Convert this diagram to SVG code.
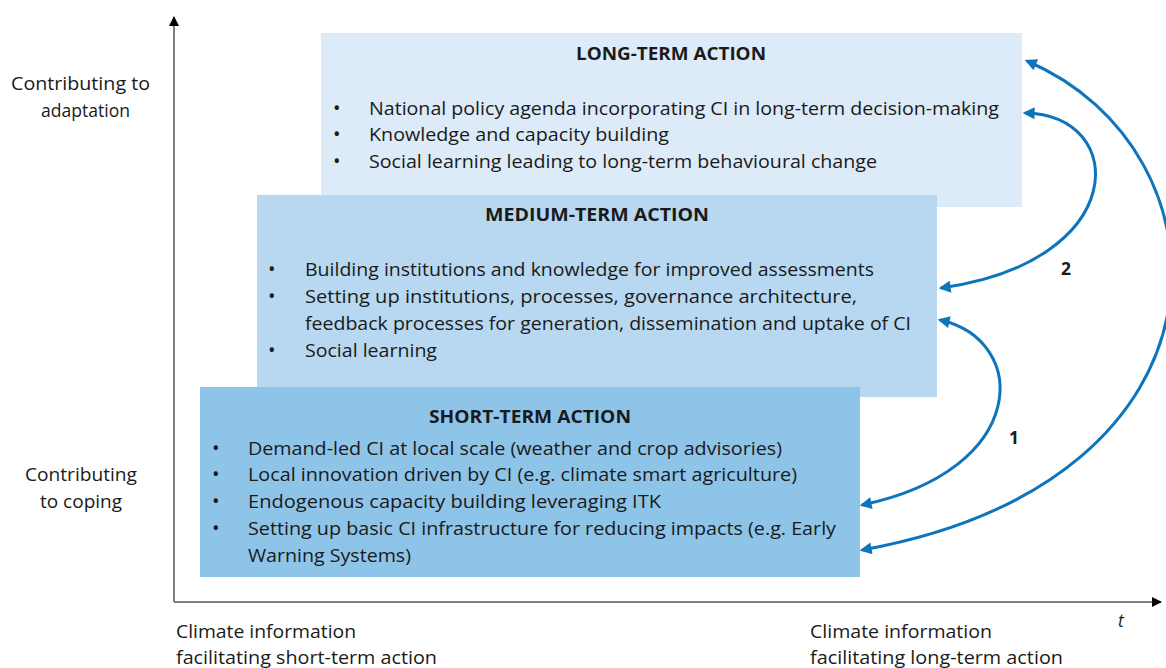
<svg xmlns="http://www.w3.org/2000/svg" width="1166" height="668" viewBox="0 0 1166 668">
<defs>
<style>
text{font-family:"Open Sans","Liberation Sans",sans-serif;font-size:17.5px;fill:#1a1a1a;font-variant-ligatures:none}
.b{font-size:20px}
.t{font-weight:bold}
.n{font-weight:bold}
.it{font-style:italic}
.axis{stroke:#7f7f7f;stroke-width:2;fill:none}
.link{stroke:#0e75bc;stroke-width:3;fill:none;marker-start:url(#bh);marker-end:url(#bh)}
</style>
<marker id="bh" viewBox="0 0 10 10" refX="8" refY="5" markerWidth="4.5" markerHeight="4" markerUnits="strokeWidth" orient="auto-start-reverse">
<path d="M0,0 L10,5 L0,10 z" fill="#0e75bc"/>
</marker>
<marker id="ah" viewBox="0 0 10 10" refX="9" refY="5" markerWidth="6" markerHeight="5" markerUnits="strokeWidth" orient="auto">
<path d="M0,0 L10,5 L0,10 z" fill="#000"/>
</marker>
</defs>
<rect width="1166" height="668" fill="#fff"/>
<g id="axes">
<line class="axis" x1="174" y1="602" x2="174" y2="17" marker-end="url(#ah)"/>
<line class="axis" x1="174" y1="602" x2="1161" y2="602" marker-end="url(#ah)"/>
</g>
<g id="long-term">
<rect x="321" y="33" width="701" height="174" fill="#dcebf7"/>
<text class="t" x="576" y="60" textLength="190" lengthAdjust="spacingAndGlyphs">LONG-TERM ACTION</text>
<text class="b" x="333" y="115">•</text><text x="369" y="115" textLength="630" lengthAdjust="spacingAndGlyphs">National policy agenda incorporating CI in long-term decision-making</text>
<text class="b" x="333" y="141">•</text><text x="369" y="141" textLength="300" lengthAdjust="spacingAndGlyphs">Knowledge and capacity building</text>
<text class="b" x="333" y="168">•</text><text x="369" y="168" textLength="508" lengthAdjust="spacingAndGlyphs">Social learning leading to long-term behavioural change</text>
</g>
<g id="medium-term">
<rect x="257" y="195" width="680" height="202" fill="#b7d8f0"/>
<text class="t" x="485" y="221" textLength="224" lengthAdjust="spacingAndGlyphs">MEDIUM-TERM ACTION</text>
<text class="b" x="268" y="276">•</text><text x="305" y="276" textLength="569" lengthAdjust="spacingAndGlyphs">Building institutions and knowledge for improved assessments</text>
<text class="b" x="268" y="303">•</text><text x="305" y="303" textLength="552" lengthAdjust="spacingAndGlyphs">Setting up institutions, processes, governance architecture,</text>
<text x="305" y="330" textLength="606" lengthAdjust="spacingAndGlyphs">feedback processes for generation, dissemination and uptake of CI</text>
<text class="b" x="268" y="357">•</text><text x="305" y="357" textLength="132" lengthAdjust="spacingAndGlyphs">Social learning</text>
</g>
<g id="short-term">
<rect x="200" y="387" width="660" height="190" fill="#8ec4e8"/>
<text class="t" x="429" y="423" textLength="202" lengthAdjust="spacingAndGlyphs">SHORT-TERM ACTION</text>
<text class="b" x="212" y="455">•</text><text x="248" y="455" textLength="534" lengthAdjust="spacingAndGlyphs">Demand-led CI at local scale (weather and crop advisories)</text>
<text class="b" x="212" y="481">•</text><text x="248" y="481" textLength="549" lengthAdjust="spacingAndGlyphs">Local innovation driven by CI (e.g. climate smart agriculture)</text>
<text class="b" x="212" y="508">•</text><text x="248" y="508" textLength="413" lengthAdjust="spacingAndGlyphs">Endogenous capacity building leveraging ITK</text>
<text class="b" x="212" y="535">•</text><text x="248" y="535" textLength="588" lengthAdjust="spacingAndGlyphs">Setting up basic CI infrastructure for reducing impacts (e.g. Early</text>
<text x="248" y="562" textLength="163" lengthAdjust="spacingAndGlyphs">Warning Systems)</text>
</g>
<g id="connectors">
<path class="link" d="M862,550 C1250,480 1235,150 1027,61"/>
<path class="link" d="M941,288 C1130,262 1130,115 1025,113"/>
<path class="link" d="M862,505 C1030,470 1030,340 940,320"/>
<text class="n" x="1061" y="275">2</text>
<text class="n" x="1009" y="444">1</text>
</g>
<g id="labels">
<text x="11" y="90" textLength="139" lengthAdjust="spacingAndGlyphs">Contributing to</text>
<text x="41" y="117" textLength="89" lengthAdjust="spacingAndGlyphs">adaptation</text>
<text x="25" y="481" textLength="112" lengthAdjust="spacingAndGlyphs">Contributing</text>
<text x="40" y="508" textLength="82" lengthAdjust="spacingAndGlyphs">to coping</text>
<text x="176" y="638" textLength="180" lengthAdjust="spacingAndGlyphs">Climate information</text>
<text x="176" y="664" textLength="261" lengthAdjust="spacingAndGlyphs">facilitating short-term action</text>
<text x="810" y="638" textLength="182" lengthAdjust="spacingAndGlyphs">Climate information</text>
<text x="810" y="664" textLength="253" lengthAdjust="spacingAndGlyphs">facilitating long-term action</text>
<text class="it" x="1118" y="627">t</text>
</g>
</svg>
